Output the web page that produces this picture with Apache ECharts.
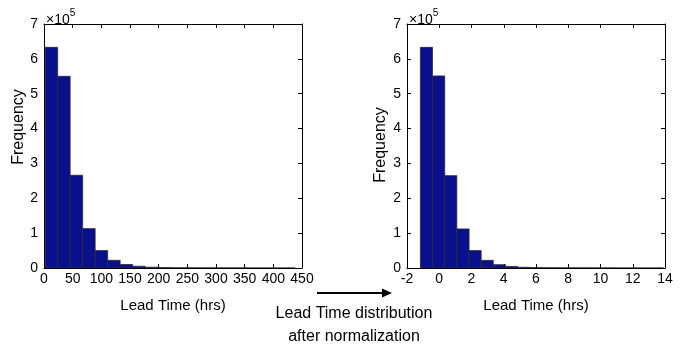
<!DOCTYPE html>
<html>
<head>
<meta charset="utf-8">
<script src="https://cdn.jsdelivr.net/npm/echarts@6/dist/echarts.min.js"></script>
<style>html,body{margin:0;padding:0;background:#fff}#c{width:692px;height:352px}</style>
</head>
<body>
<div id="c"></div>
<script>
// Bin edges (hrs) of the raw histogram
const rawEdges = [2, 23.8, 45.6, 67.4, 89.2, 111, 132.8, 154.6, 176.4, 198.2, 220, 241.8, 263.6, 285.4, 307.2, 329, 350.8, 372.6, 394.4, 416.2, 438];
// Bin edges of the normalized histogram
const normEdges = [-1.17, -0.42, 0.34, 1.09, 1.85, 2.60, 3.35, 4.11, 4.86, 5.62, 6.37, 7.12, 7.88, 8.63, 9.39, 10.14, 10.89, 11.65, 12.40, 13.16, 13.91];
// Frequencies per bin
const rawCounts = [633000, 550000, 266000, 113000, 50000, 22000, 10000, 5000, 2200, 1000, 600, 400, 300, 200, 150, 100, 80, 60, 40, 30];
const normCounts = [633000, 551000, 265000, 112000, 50000, 22000, 9500, 4500, 2000, 1000, 600, 400, 300, 200, 150, 100, 80, 60, 40, 30];
// Axis ticks
const rawXTicks = {min: 0, max: 450, interval: 50};
const normXTicks = {min: -2, max: 14, interval: 2};
const yTicks = {min: 0, max: 700000, interval: 100000};

const FONT = 'Liberation Sans';
const TICKFONT = '"Liberation Sans Narrow", "Liberation Sans", Arial, sans-serif';
const barColor = '#0a0f8c';

function binData(edges, counts) {
  return counts.map((c, i) => [edges[i], edges[i + 1], c]);
}

function renderBin(params, api) {
  const p0 = api.coord([api.value(0), api.value(2)]);
  const p1 = api.coord([api.value(1), 0]);
  return {
    type: 'rect',
    shape: {x: p0[0], y: p0[1], width: p1[0] - p0[0], height: p1[1] - p0[1]},
    style: {fill: barColor, stroke: '#2a2a3a', lineWidth: 0.8}
  };
}

const axisLine = {show: true, onZero: false, lineStyle: {color: '#000', width: 1}};
const axisTick = {show: true, inside: true, length: 4, lineStyle: {color: '#000', width: 1}};
const labelStyle = {color: '#000', fontFamily: TICKFONT, fontSize: 14};

function xAxes(ticks, gi) {
  return [
    {type: 'value', gridIndex: gi, position: 'bottom', min: ticks.min, max: ticks.max, interval: ticks.interval,
     axisLine, axisTick, splitLine: {show: false},
     axisLabel: Object.assign({margin: 4}, labelStyle),
     name: 'Lead Time (hrs)', nameLocation: 'middle', nameGap: 30,
     nameTextStyle: {color: '#000', fontFamily: FONT, fontSize: 15}},
    {type: 'value', gridIndex: gi, position: 'top', min: ticks.min, max: ticks.max, interval: ticks.interval,
     axisLine, axisTick, splitLine: {show: false}, axisLabel: {show: false}}
  ];
}
function yAxes(gi) {
  return [
    {type: 'value', gridIndex: gi, position: 'left', min: yTicks.min, max: yTicks.max, interval: yTicks.interval,
     axisLine, axisTick, splitLine: {show: false},
     axisLabel: Object.assign({margin: 6, formatter: v => String(v / 100000)}, labelStyle)},
    {type: 'value', gridIndex: gi, position: 'right', min: yTicks.min, max: yTicks.max, interval: yTicks.interval,
     axisLine, axisTick, splitLine: {show: false}, axisLabel: {show: false}}
  ];
}

const sci = {text: '{a|×10}{b|5}', rich: {
  a: {fontFamily: TICKFONT, fontSize: 14, fill: '#000', verticalAlign: 'bottom'},
  b: {fontFamily: TICKFONT, fontSize: 10, fill: '#000', verticalAlign: 'top', padding: [0, 0, 9, 0]}}};

function yName(x, y) {
  return {type: 'text', x: x, y: y, rotation: Math.PI / 2,
    style: {text: 'Frequency', fontFamily: FONT, fontSize: 16, fill: '#000', align: 'center', verticalAlign: 'middle'}};
}

const chart = echarts.init(document.getElementById('c'), null, {renderer: 'canvas'});
chart.setOption({
  backgroundColor: '#fff',
  animation: false,
  grid: [
    {left: 44, top: 24, width: 258, height: 244},
    {left: 407, top: 24, width: 258, height: 244}
  ],
  xAxis: [...xAxes(rawXTicks, 0), ...xAxes(normXTicks, 1)],
  yAxis: [...yAxes(0), ...yAxes(1)],
  series: [
    {type: 'custom', xAxisIndex: 0, yAxisIndex: 0, renderItem: renderBin, data: binData(rawEdges, rawCounts), clip: true},
    {type: 'custom', xAxisIndex: 2, yAxisIndex: 2, renderItem: renderBin, data: binData(normEdges, normCounts), clip: true}
  ],
  graphic: [
    yName(19, 127),
    yName(381, 145),
    {type: 'text', left: 46, top: 8, style: Object.assign({}, sci)},
    {type: 'text', left: 409, top: 8, style: Object.assign({}, sci)},
    {type: 'line', shape: {x1: 317, y1: 293, x2: 384, y2: 293}, style: {stroke: '#000', lineWidth: 2}},
    {type: 'polygon', shape: {points: [[392, 293], [382, 288.5], [382, 297.5]]}, style: {fill: '#000'}},
    {type: 'text', x: 354, y: 314, style: {text: 'Lead Time distribution', fontFamily: FONT, fontSize: 16, fill: '#000', align: 'center', verticalAlign: 'middle'}},
    {type: 'text', x: 354, y: 337, style: {text: 'after normalization', fontFamily: FONT, fontSize: 16, fill: '#000', align: 'center', verticalAlign: 'middle'}}
  ]
});
</script>
</body>
</html>
